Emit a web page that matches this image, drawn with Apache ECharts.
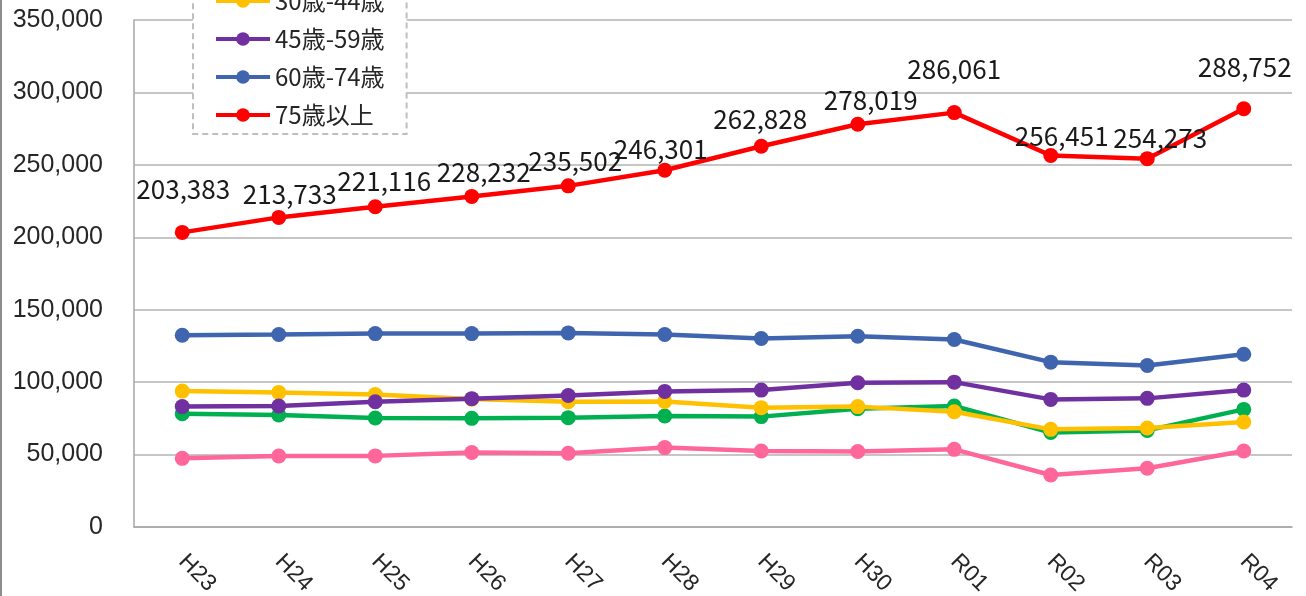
<!DOCTYPE html>
<html>
<head>
<meta charset="utf-8">
<script src="https://cdn.jsdelivr.net/npm/echarts@6/dist/echarts.min.js"></script>
<style>
html,body{margin:0;padding:0;background:#fff;}
#chart{width:1306px;height:596px;}
</style>
</head>
<body>
<div id="chart"></div>
<script>
const categories = ['H23','H24','H25','H26','H27','H28','H29','H30','R01','R02','R03','R04'];
const seriesNames = ['0歳-14歳','15歳-29歳','30歳-44歳','45歳-59歳','60歳-74歳','75歳以上'];
const age0_14  = [47400, 49000, 49100, 51400, 50900, 54800, 52500, 52100, 53600, 35900, 40600, 52500];
const age15_29 = [78200, 77300, 75200, 75000, 75500, 76600, 76200, 81700, 83500, 65200, 66700, 81200];
const age30_44 = [93800, 92900, 91500, 88300, 86500, 86700, 82400, 83100, 79600, 67400, 68300, 72500];
const age45_59 = [83100, 83500, 86500, 88600, 90800, 93600, 94500, 99600, 100000, 88100, 88800, 94500];
const age60_74 = [132400, 132900, 133500, 133500, 134000, 132900, 130100, 131700, 129400, 113800, 111500, 119300];
const age75    = [203383, 213733, 221116, 228232, 235502, 246301, 262828, 278019, 286061, 256451, 254273, 288752];
const yTicks   = [0, 50000, 100000, 150000, 200000, 250000, 300000, 350000];

// styling: per-label nudges for the 75歳以上 value labels [dx, dy]
const redLabelNudge = [[1,-23],[11,-3],[9,-5],[12,-4],[7,-4],[-4,-1],[-1,-7],[13,-4],[0,-23],[11,1],[13,0],[1,-21]];

const colors = ['#FF6699','#00B050','#FFC000','#7030A0','#3F65AF','#FF0000'];
const values = [age0_14, age15_29, age30_44, age45_59, age60_74, age75];

const series = seriesNames.map((name, i) => {
  const s = {
    name: name,
    type: 'line',
    data: values[i],
    symbol: 'circle',
    symbolSize: 15,
    lineStyle: {width: 4.5, color: colors[i]},
    itemStyle: {color: colors[i]},
    z: 2 + i,
    animation: false
  };
  if (i === 5) {
    s.data = values[i].map((v, k) => ({
      value: v,
      label: {offset: redLabelNudge[k]}
    }));
    s.label = {
      show: true,
      position: 'top',
      distance: 0,
      fontFamily: 'Noto Sans CJK JP',
      fontSize: 26,
      color: '#1a1a1a',
      formatter: p => p.value.toLocaleString('en-US')
    };
  }
  return s;
});

const chart = echarts.init(document.getElementById('chart'));
chart.setOption({
  backgroundColor: '#ffffff',
  animation: false,
  grid: {left: 134, right: 14, top: 20, bottom: 69, containLabel: false, outerBoundsMode: 'none'},
  legend: {
    orient: 'vertical',
    left: 193,
    top: -94,
    padding: [7, 22, 7, 21],
    itemGap: 14,
    itemWidth: 54,
    itemHeight: 17,
    lineStyle: {width: 4},
    backgroundColor: '#ffffff',
    borderColor: '#bfbfbf',
    borderWidth: 2,
    borderType: [6, 4],
    textStyle: {fontFamily: 'Noto Sans CJK JP', fontSize: 24, color: '#262626', lineHeight: 24},
    data: seriesNames
  },
  xAxis: {
    type: 'category',
    data: categories,
    boundaryGap: true,
    axisLine: {show: true, lineStyle: {color: '#a6a6a6', width: 1.5}},
    axisTick: {show: false},
    axisLabel: {
      rotate: -45,
      margin: 31,
      interval: 0,
      fontFamily: 'Liberation Sans',
      fontSize: 23,
      color: '#262626'
    }
  },
  yAxis: {
    type: 'value',
    min: yTicks[0],
    max: yTicks[yTicks.length - 1],
    interval: 50000,
    axisLine: {show: true, lineStyle: {color: '#a6a6a6', width: 1.5}},
    axisTick: {show: false},
    splitLine: {show: true, lineStyle: {color: '#b3b3b3', width: 1.5}},
    axisLabel: {
      margin: 31,
      fontFamily: 'Liberation Sans',
      fontSize: 25,
      color: '#262626',
      formatter: v => v.toLocaleString('en-US')
    }
  },
  graphic: [{
    type: 'line',
    shape: {x1: 1, y1: 0, x2: 1, y2: 596},
    style: {stroke: '#8c8c8c', lineWidth: 2},
    silent: true
  }],
  series: series
});
</script>
</body>
</html>
